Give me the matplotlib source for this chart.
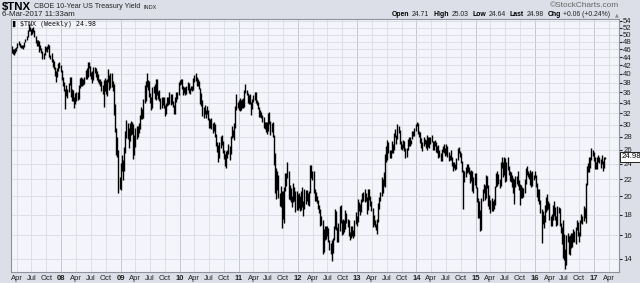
import numpy as np
import pandas as pd
import matplotlib
matplotlib.use('Agg')
import matplotlib.pyplot as plt
import matplotlib.transforms as mtransforms
from matplotlib.ticker import FixedLocator, NullLocator

# weekly low / high of $TNX (yield x 10), weeks ending Fridays, Mar 2007 .. Mar 2017
week_low = [
    # 2007
    44.9, 44.7, 44.6, 45.0, 45.6, 46.2, 47.1, 46.5, 46.3, 46.2, 46.1, 46.7, 47.8,
    48.5, 49.3, 50.9, 50.9, 49.9, 50.1, 50.7, 49.3, 47.6, 46.9, 46.8, 45.2, 45.9, 45.1,
    43.5, 43.4, 44.5, 45.5, 45.3, 46.1, 43.9, 43.4, 42.8, 41.7, 41.2, 39.6, 38.3,
    39.2, 40.7, 41.3, 40.5,
    # 2008
    38.6, 37.4, 36.2, 32.8, 35.3, 34.8, 36.1, 37.5, 35.0, 34.3, 34.2, 32.9, 33.7,
    34.3, 34.4, 34.6, 37.0, 37.4, 37.4, 37.5, 37.7, 38.8, 38.9, 39.4, 41.3, 39.6,
    38.9, 37.9, 38.6, 40.1, 39.4, 38.7, 38.2, 37.7, 37.4, 36.3, 35.6, 33.1, 36.2,
    35.7, 35.2, 38.2, 36.4, 37.0, 37.1, 36.2, 31.6, 28.8, 25.2, 24.9, 20.4, 20.8,
    # 2009
    20.7, 23.1, 21.9, 23.1, 25.5, 27.8, 27.7, 26.2, 27.3, 28.2, 28.4, 24.7, 25.3,
    26.4, 27.6, 27.9, 28.6, 29.3, 30.9, 31.0, 31.1, 34.0, 34.3, 37.1, 36.6, 35.0,
    34.0, 32.5, 32.9, 35.9, 34.6, 34.4, 35.4, 34.7, 34.3, 32.8, 32.9, 33.5, 33.0,
    31.5, 31.8, 33.3, 33.6, 33.8, 33.5, 33.8, 33.1, 31.9, 31.9, 34.1, 34.7, 35.5,
    # 2010
    37.6, 37.8, 36.7, 35.5, 35.8, 35.4, 35.6, 36.6, 35.8, 35.7, 36.5, 36.3, 36.6,
    38.2, 38.5, 37.3, 37.3, 36.7, 33.8, 33.3, 31.5, 31.1, 31.9, 31.2, 31.8, 30.8,
    29.4, 29.5, 29.2, 28.6, 28.9, 28.0, 26.6, 25.7, 24.2, 24.8, 26.3, 26.7, 25.6,
    24.7, 23.7, 23.5, 24.8, 25.4, 24.5, 25.4, 27.8, 27.9, 27.5, 29.5, 32.6, 32.9, 32.6,
    # 2011
    32.4, 32.6, 32.9, 32.9, 33.1, 35.8, 35.5, 33.9, 33.8, 33.7, 31.7, 32.7,
    34.1, 34.4, 34.0, 33.5, 32.7, 31.3, 31.4, 31.2, 30.5, 29.4, 29.3, 28.8, 28.4,
    28.9, 30.1, 28.2, 28.7, 27.9, 23.9, 20.4, 19.7, 20.7, 19.8, 18.9, 18.8, 16.7, 17.6,
    17.2, 20.6, 21.2, 22.1, 19.7, 19.6, 19.3, 18.8, 19.3, 19.4, 18.3, 18.5, 18.5,
    # 2012
    18.7, 18.4, 18.5, 18.8, 17.9, 18.6, 19.1, 19.5, 19.0, 18.9, 20.3, 22.2, 21.9,
    20.3, 19.5, 19.4, 19.2, 18.6, 18.2, 16.9, 17.0, 14.4, 14.6, 15.6, 15.7, 15.9,
    15.4, 14.7, 14.4, 13.8, 14.5, 15.6, 16.6, 16.5, 15.4, 15.4, 16.4, 17.2, 16.0,
    16.1, 16.3, 16.6, 17.2, 16.8, 15.9, 15.6, 15.8, 15.9, 15.8, 15.9, 17.1, 16.9,
    # 2013
    17.3, 18.4, 18.0, 18.3, 19.3, 19.4, 19.3, 19.5, 18.1, 18.5, 19.6, 18.9, 18.4,
    16.8, 17.0, 16.8, 16.5, 16.1, 17.3, 18.6, 19.4, 20.0, 20.3, 21.2, 21.0, 24.3,
    24.5, 25.5, 24.8, 24.8, 25.5, 25.5, 25.9, 27.9, 26.9, 27.6, 28.6, 26.8, 26.1,
    25.9, 26.3, 25.8, 24.8, 24.9, 25.9, 26.5, 26.6, 26.9, 27.6, 28.1, 28.1, 28.9,
    # 2014
    29.8, 28.4, 28.0, 27.0, 26.3, 25.8, 26.5, 26.8, 26.3, 26.0, 26.4, 26.3, 26.8,
    27.1, 26.0, 26.0, 26.5, 25.7, 25.5, 24.8, 25.0, 24.4, 24.4, 25.7, 25.5, 25.1,
    25.3, 25.0, 24.4, 24.5, 24.6, 23.7, 23.0, 23.4, 23.2, 23.3, 24.5, 25.5, 24.9,
    24.1, 22.9, 18.6, 21.7, 22.3, 22.8, 22.9, 22.7, 21.5, 21.8, 20.6, 20.4, 21.3,
    # 2015
    20.9, 19.3, 17.7, 17.7, 16.4, 16.5, 19.5, 20.4, 19.6, 19.8, 20.9, 18.9, 18.6,
    18.2, 18.4, 18.4, 18.6, 19.0, 21.0, 21.2, 21.4, 20.9, 21.2, 23.5, 22.3, 22.6,
    21.6, 21.8, 23.2, 22.5, 21.8, 21.6, 21.1, 20.3, 19.1, 21.1, 21.4, 21.2, 20.7,
    19.0, 19.8, 19.8, 19.9, 20.3, 21.4, 22.6, 22.3, 22.0, 21.3, 21.1, 21.2, 21.9,
    # 2016
    22.1, 21.0, 19.9, 19.4, 19.1, 18.2, 15.3, 17.1, 16.7, 17.3, 18.3, 18.5, 18.6,
    17.5, 16.9, 16.9, 17.5, 17.9, 17.5, 16.9, 17.0, 18.2, 16.9, 16.2, 15.2, 14.1,
    13.9, 13.2, 13.5, 15.4, 14.4, 14.3, 14.9, 15.0, 15.4, 15.4, 15.2, 16.5, 15.9, 15.4,
    15.9, 17.2, 17.1, 17.4, 17.7, 17.2, 21.3, 22.9, 22.9, 23.5, 24.5, 25.1, 24.4,
    # 2017
    23.3, 23.3, 23.3, 24.3, 24.1, 23.4, 24.0, 23.1, 23.4, 24.64,
]
week_high = [
    # 2007
    46.9, 46.1, 46.0, 46.2, 46.6, 47.7, 48.1, 47.6, 47.2, 47.0, 47.2, 48.0, 48.8,
    49.6, 51.3, 53.2, 52.2, 51.5, 52.0, 52.3, 51.3, 49.7, 48.4, 48.6, 48.3, 47.2, 46.3,
    45.6, 45.1, 46.8, 46.6, 46.9, 47.3, 47.1, 44.6, 44.9, 43.4, 43.0, 41.7, 40.7,
    41.4, 42.6, 42.7, 42.0,
    # 2008
    40.8, 39.2, 38.3, 36.7, 37.6, 36.8, 37.9, 39.4, 39.2, 36.8, 36.6, 35.0, 35.8,
    36.1, 36.1, 37.5, 39.0, 39.2, 39.1, 38.9, 39.2, 40.9, 41.3, 42.7, 42.8, 41.9,
    40.5, 40.6, 41.6, 41.7, 41.3, 40.7, 39.9, 38.9, 38.9, 38.4, 37.6, 38.7, 39.0,
    38.6, 38.8, 41.1, 39.7, 40.3, 40.1, 38.5, 37.7, 33.7, 29.4, 27.9, 26.0, 22.3,
    # 2009
    24.1, 25.3, 24.6, 26.4, 28.9, 30.8, 30.2, 29.4, 30.3, 30.7, 30.5, 30.1, 28.2,
    29.5, 29.7, 29.8, 30.3, 31.7, 33.1, 32.8, 34.6, 37.5, 38.5, 40.1, 38.7, 38.4,
    35.8, 35.1, 37.1, 37.3, 37.7, 38.9, 38.8, 36.2, 36.6, 34.8, 35.0, 35.1, 35.0,
    33.5, 34.0, 35.0, 35.1, 36.1, 35.6, 35.7, 34.2, 33.5, 35.0, 36.1, 36.0, 38.1,
    # 2010
    38.6, 38.9, 38.8, 37.3, 37.1, 37.1, 37.4, 38.2, 37.9, 37.0, 37.4, 37.3, 39.0,
    39.7, 40.1, 39.2, 38.8, 38.4, 37.0, 35.9, 34.5, 33.1, 33.6, 32.6, 33.4, 32.6,
    31.2, 30.9, 31.2, 30.3, 30.5, 30.1, 28.4, 27.2, 26.7, 27.2, 28.1, 28.3, 27.4,
    25.9, 25.4, 25.8, 26.0, 26.8, 26.5, 28.1, 29.7, 29.1, 30.3, 33.3, 35.6, 34.1, 34.4,
    # 2011
    34.8, 34.5, 34.7, 34.8, 36.5, 37.7, 36.4, 35.9, 35.4, 35.6, 34.1, 34.6,
    35.5, 36.0, 36.0, 34.5, 34.1, 33.1, 32.5, 32.2, 31.7, 31.3, 30.4, 30.5, 30.4,
    32.0, 32.3, 30.6, 30.2, 30.5, 28.3, 25.6, 23.4, 23.0, 22.6, 20.4, 21.2, 20.6, 20.6,
    21.0, 22.8, 22.8, 24.2, 23.1, 21.3, 20.9, 20.0, 21.5, 21.1, 20.6, 20.6, 20.2,
    # 2012
    20.4, 20.0, 20.6, 21.0, 19.4, 20.8, 20.7, 20.7, 20.3, 20.6, 23.9, 23.9, 23.0,
    23.1, 20.8, 20.5, 20.0, 19.6, 19.0, 18.6, 17.9, 17.5, 16.6, 16.9, 16.9, 16.9,
    16.7, 15.6, 15.3, 15.6, 15.8, 16.9, 18.6, 18.4, 16.8, 17.2, 18.9, 19.0, 17.5,
    17.6, 17.5, 18.5, 18.2, 17.6, 17.5, 16.3, 16.9, 16.9, 16.5, 17.5, 18.3, 17.9,
    # 2013
    19.7, 19.3, 19.1, 19.7, 20.4, 20.5, 20.8, 20.4, 19.9, 20.8, 20.8, 20.0, 19.5,
    18.7, 18.0, 17.5, 17.1, 17.6, 19.2, 19.9, 20.5, 22.3, 22.0, 22.9, 25.4, 26.6,
    27.5, 27.2, 26.0, 26.0, 27.3, 26.8, 28.6, 29.3, 28.2, 30.1, 29.8, 29.1, 27.3,
    26.8, 27.5, 27.3, 26.2, 26.3, 27.7, 27.9, 28.0, 27.5, 29.0, 29.0, 29.5, 30.1,
    # 2014
    30.4, 30.2, 29.0, 28.7, 27.8, 27.1, 27.9, 27.7, 27.5, 28.2, 27.9, 28.0, 28.0,
    28.2, 27.3, 27.3, 27.5, 27.2, 26.6, 26.7, 25.9, 25.6, 26.1, 26.5, 26.8, 26.3,
    26.8, 26.5, 25.7, 25.2, 26.0, 25.0, 24.3, 24.3, 24.0, 24.8, 26.3, 26.4, 25.8,
    25.5, 24.4, 23.2, 23.0, 23.6, 24.0, 24.0, 23.6, 23.1, 23.2, 23.0, 22.3, 22.8,
    # 2015
    22.8, 21.1, 19.8, 19.4, 18.5, 19.8, 20.8, 21.4, 21.3, 22.5, 22.4, 21.3, 20.1,
    19.6, 19.8, 19.5, 19.7, 21.2, 22.8, 23.1, 22.7, 22.0, 24.2, 25.0, 24.2, 24.9,
    24.8, 24.3, 24.9, 23.7, 23.0, 22.9, 22.6, 22.2, 22.0, 22.4, 22.4, 23.0, 21.9,
    21.4, 21.3, 21.0, 20.9, 22.0, 23.4, 23.7, 23.0, 22.8, 23.2, 22.9, 23.1, 22.6,
    # 2016
    23.1, 22.6, 21.5, 20.8, 20.8, 19.6, 18.6, 18.4, 18.0, 19.0, 19.9, 20.2, 19.4,
    19.2, 17.9, 18.1, 19.0, 19.4, 18.8, 17.9, 18.9, 18.8, 18.7, 17.2, 16.8, 17.5,
    16.1, 14.8, 16.0, 16.2, 15.9, 16.0, 16.2, 16.2, 16.6, 16.4, 16.8, 17.5, 17.3, 16.3,
    17.5, 18.1, 17.9, 18.9, 18.7, 21.5, 23.7, 24.1, 24.9, 24.9, 26.2, 26.0, 25.7,
    # 2017
    24.9, 24.2, 25.0, 25.3, 25.0, 24.7, 25.3, 24.4, 25.0, 25.03,
]
last_week = '2017-03-10'
y_ticks = list(range(14, 56, 2))
quote_names = ['Open', 'High', 'Low', 'Last', 'Chg']
quote_values = ['24.71', '25.03', '24.64', '24.98', '+0.06 (+0.24%)']
last_value = 24.98

weeks = pd.date_range(end=last_week, periods=len(week_low), freq='W-FRI')

outer = '#dcdfe7'
inner = '#f4f5fa'
grid_c = '#dcdfe6'
year_c = '#c4c8d0'
font = 'Liberation Sans'

fig = plt.figure(figsize=(6.4, 2.83), dpi=100, facecolor=outer)
W, H = 640.0, 283.0
ax = fig.add_axes([11 / W, 11 / H, 608 / W, 253 / H])
ax.set_facecolor(inner)
ax.set_yscale('log')
ax.set_ylim(13.0, 54.6)
ax.set_xlim(pd.Timestamp('2007-02-25'), pd.Timestamp('2017-06-04'))

# grid
quarters = pd.date_range('2007-04-01', '2017-04-01', freq='QS-JAN')
for q in quarters:
    ax.axvline(q, color=year_c if q.month == 1 else grid_c, lw=0.7, zorder=0)
for t in y_ticks:
    ax.axhline(t, color=grid_c, lw=0.7, zorder=0)

# weekly bars
ax.vlines(weeks, week_low, week_high, color='black', lw=1.0, zorder=2)

# x axis
ax.xaxis.set_major_locator(FixedLocator([matplotlib.dates.date2num(q) for q in quarters]))
labels = []
for q in quarters:
    labels.append(q.strftime('%y') if q.month == 1 else q.strftime('%b'))
ax.set_xticklabels(labels)
ax.tick_params(axis='x', length=0, pad=2.5, labelsize=5.5, colors='#222222')
for lab in ax.get_xticklabels():
    lab.set_family(font)
    if lab.get_text().isdigit():
        lab.set_fontweight('bold')

# y axis on the right
ax.yaxis.tick_right()
ax.yaxis.set_major_locator(FixedLocator(y_ticks))
ax.yaxis.set_minor_locator(NullLocator())
ax.set_yticklabels([str(t) for t in y_ticks])
ax.tick_params(axis='y', length=2, pad=1, labelsize=5.6, colors='#222222')
for lab in ax.get_yticklabels():
    lab.set_family(font)

for s in ax.spines.values():
    s.set_color('#8e929a')
    s.set_linewidth(0.8)

# last value marker
trans = mtransforms.blended_transform_factory(ax.transAxes, ax.transData)
ax.text(1.004, last_value, '%.2f' % last_value, transform=trans, fontsize=5.6,
        family=font, va='center', ha='left',
        bbox=dict(boxstyle='square,pad=0.15', fc='white', ec='black', lw=0.6))


def px(x, y):
    return x / W, 1 - y / H


fig.canvas.draw()
rend = fig.canvas.get_renderer()


def fit(t, target):
    w = t.get_window_extent(rend).width
    t.set_fontsize(t.get_fontsize() * target / w)


# legend inside plot
leg = fig.text(*px(20, 24), '$TNX (Weekly) 24.98', family='DejaVu Sans Mono',
               fontsize=5.0, va='center', ha='left', color='#111111')
fit(leg, 77)
fig.text(*px(12, 24), '\u258c', fontsize=4.5, va='center', ha='left')

# header
t1 = fig.text(*px(2, 7), '$TNX', fontsize=7.5, fontweight='bold', family=font, va='center')
fit(t1, 29)
t2 = fig.text(*px(34, 7), 'CBOE 10-Year US Treasury Yield', fontsize=6.2, family=font,
              va='center', color='#222222')
fit(t2, 107)
t3 = fig.text(*px(144, 7.5), 'INDX', fontsize=4.6, family=font, va='center', color='#222222')
fit(t3, 13)
t4 = fig.text(*px(2, 15), '6-Mar-2017 11:33am', fontsize=5.6, family=font, va='center',
              color='#222222')
fit(t4, 73)
t5 = fig.text(*px(550, 5.5), '\u00a9StockCharts.com', fontsize=5.4, family=font,
              va='center', ha='left', color='#666666')
fit(t5, 69)

# quote line, laid out left to right between x=392 and x=613
pieces = []
for nm, vl in zip(quote_names, quote_values):
    pieces.append(fig.text(0, 0, nm, fontsize=6, family=font, fontweight='bold', va='center'))
    pieces.append(fig.text(0, 0, vl, fontsize=6, family=font, va='center', color='#222222'))
gaps = [2.5, 4] * len(quote_names)
gaps = gaps[:-1]
total = sum(p.get_window_extent(rend).width for p in pieces)
scale = (613 - 392 - sum(gaps)) / total
for p in pieces:
    p.set_fontsize(6 * scale)
x = 392.0
for i, p in enumerate(pieces):
    p.set_position(px(x, 15))
    x += p.get_window_extent(rend).width
    if i < len(gaps):
        x += gaps[i]
fig.text(*px(617, 15), '\u25b2', fontsize=3.5, va='center', ha='center', color='#888888')

fig.savefig('out.png', dpi=100, facecolor=outer)
